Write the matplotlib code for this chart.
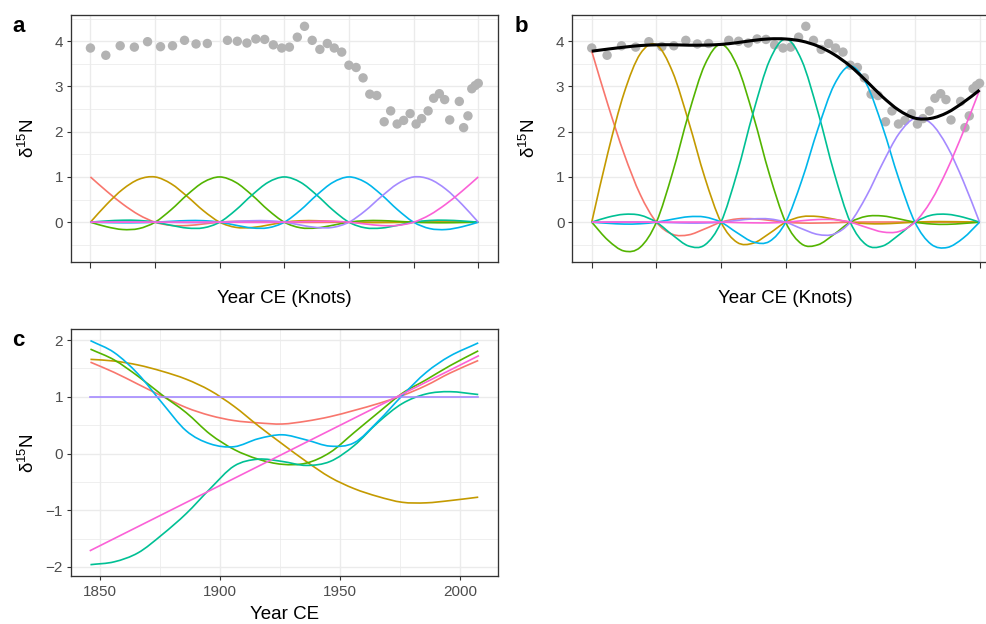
import numpy as np
import matplotlib
matplotlib.use("Agg")
import matplotlib.pyplot as plt
from matplotlib.path import Path
from matplotlib.patches import PathPatch
from matplotlib.ticker import MultipleLocator

plt.rcParams['font.family'] = ['Liberation Sans', 'DejaVu Sans']
plt.rcParams['mathtext.fontset'] = 'custom'
plt.rcParams['mathtext.rm'] = 'Liberation Sans'

# d15N record
years = [1846.1, 1852.5, 1858.5, 1864.4, 1869.9, 1875.3, 1880.3, 1885.3, 1890.1, 1894.8,
         1903.2, 1907.3, 1911.3, 1915.0, 1918.7, 1922.3, 1925.8, 1929.0, 1932.3, 1935.3,
         1938.5, 1941.7, 1944.8, 1947.7, 1950.8, 1953.8, 1956.8, 1959.7, 1962.5, 1965.4,
         1968.5, 1971.2, 1973.9, 1976.6, 1979.3, 1981.8, 1984.1, 1986.8, 1989.1, 1991.5,
         1993.7, 1995.8, 1999.8, 2001.6, 2003.4, 2005.0, 2006.4, 2007.7]
d15n = [3.85, 3.69, 3.90, 3.87, 3.99, 3.88, 3.90, 4.02, 3.94, 3.95,
        4.02, 4.00, 3.96, 4.05, 4.04, 3.92, 3.85, 3.87, 4.09, 4.33,
        4.02, 3.82, 3.95, 3.85, 3.76, 3.47, 3.42, 3.19, 2.83, 2.80,
        2.22, 2.46, 2.17, 2.25, 2.40, 2.17, 2.29, 2.46, 2.74, 2.84,
        2.71, 2.26, 2.67, 2.09, 2.35, 2.95, 3.02, 3.07]

knots = [1846.1, 1873.0, 1899.9, 1926.9, 1953.8, 1980.8, 2007.7]

# cubic regression spline basis, sampled every quarter of a knot interval
cr_red = [1.000, 0.687, 0.400, 0.162, 0.000, -0.071, -0.074, -0.039, 0.000, 0.019, 0.020, 0.011, 0.000,
          -0.005, -0.005, -0.003, 0.000, 0.001, 0.001, 0.001, 0.000, 0.000, 0.000, 0.000, 0.000]
cr_gold = [0.000, 0.392, 0.728, 0.949, 1.000, 0.848, 0.566, 0.251, 0.000, -0.114, -0.118, -0.063, 0.000,
           0.031, 0.032, 0.017, 0.000, -0.008, -0.009, -0.005, 0.000, 0.003, 0.003, 0.002, 0.000]
cr_green = [0.000, -0.101, -0.162, -0.141, 0.000, 0.278, 0.610, 0.886, 1.000, 0.879, 0.598, 0.268, 0.000,
            -0.123, -0.127, -0.068, 0.000, 0.033, 0.035, 0.019, 0.000, -0.010, -0.012, -0.007, 0.000]
cr_teal = [0.000, 0.027, 0.043, 0.038, 0.000, -0.070, -0.130, -0.124, 0.000, 0.270, 0.601, 0.882, 1.000,
           0.882, 0.601, 0.270, 0.000, -0.124, -0.130, -0.070, 0.000, 0.038, 0.043, 0.027, 0.000]
cr_blue = [0.000, -0.007, -0.012, -0.010, 0.000, 0.019, 0.035, 0.033, 0.000, -0.068, -0.127, -0.123, 0.000,
           0.268, 0.598, 0.879, 1.000, 0.886, 0.610, 0.278, 0.000, -0.141, -0.162, -0.101, 0.000]
cr_purple = [0.000, 0.002, 0.003, 0.003, 0.000, -0.005, -0.009, -0.008, 0.000, 0.017, 0.032, 0.031, 0.000,
             -0.063, -0.118, -0.114, 0.000, 0.251, 0.566, 0.848, 1.000, 0.949, 0.728, 0.392, 0.000]
cr_pink = [0.000, 0.000, 0.000, 0.000, 0.000, 0.001, 0.001, 0.001, 0.000, -0.003, -0.005, -0.005, 0.000,
           0.011, 0.020, 0.019, 0.000, -0.039, -0.074, -0.071, 0.000, 0.162, 0.400, 0.687, 1.000]

# fitted coefficients (one per knot)
coefs = [3.78, 3.92, 3.93, 4.05, 3.45, 2.30, 2.92]

# thin plate basis functions
tp_years = [1846.1, 1856, 1866, 1876, 1886, 1896, 1906, 1916, 1926, 1936,
            1946, 1956, 1966, 1976, 1986, 1996, 2007.7]
tp_red = [1.61, 1.43, 1.22, 1.01, 0.81, 0.67, 0.58, 0.54, 0.52, 0.57,
          0.65, 0.76, 0.88, 1.02, 1.20, 1.42, 1.64]
tp_gold = [1.66, 1.63, 1.56, 1.45, 1.31, 1.11, 0.83, 0.49, 0.17, -0.14,
           -0.42, -0.62, -0.76, -0.86, -0.87, -0.83, -0.77]
tp_green = [1.84, 1.65, 1.36, 1.03, 0.72, 0.34, 0.07, -0.10, -0.19, -0.17,
            0.02, 0.37, 0.72, 1.06, 1.30, 1.55, 1.81]
tp_teal = [-1.96, -1.91, -1.75, -1.43, -1.06, -0.62, -0.22, -0.10, -0.14, -0.21,
           -0.14, 0.14, 0.55, 0.88, 1.05, 1.09, 1.04]
tp_blue = [1.99, 1.78, 1.40, 0.89, 0.40, 0.17, 0.12, 0.26, 0.33, 0.24,
           0.13, 0.19, 0.57, 1.02, 1.43, 1.72, 1.95]
tp_const = [1.0, 1.0]
tp_linear = [-1.71, 1.72]

colours = ['#F8766D', '#C49A00', '#53B400', '#00C094', '#00B6EB', '#A58AFF', '#FB61D7']
cr_basis = np.array([cr_red, cr_gold, cr_green, cr_teal, cr_blue, cr_purple, cr_pink])
cr_x = np.linspace(knots[0], knots[-1], cr_basis.shape[1])

PX = 1 / 987
PY = 1 / 624
GRID = '#EBEBEB'
DARK = '#333333'


def smooth_line(ax, x, y, color, lw=1.2, zorder=3):
    # Catmull-Rom curve through the points, drawn as cubic Bezier segments
    p = np.column_stack([np.asarray(x, float), np.asarray(y, float)])
    ext = np.vstack([2 * p[0] - p[1], p, 2 * p[-1] - p[-2]])
    verts = [p[0]]
    codes = [Path.MOVETO]
    for i in range(len(p) - 1):
        p0, p1, p2, p3 = ext[i], ext[i + 1], ext[i + 2], ext[i + 3]
        verts += [p1 + (p2 - p0) / 6, p2 - (p3 - p1) / 6, p2]
        codes += [Path.CURVE4] * 3
    ax.add_patch(PathPatch(Path(verts, codes), fill=False, edgecolor=color,
                           lw=lw, zorder=zorder, joinstyle='round', capstyle='butt'))


def style(ax):
    for s in ax.spines.values():
        s.set_color(DARK)
        s.set_linewidth(0.95)
    ax.tick_params(which='major', colors=DARK, labelcolor='#4D4D4D', length=3.2,
                   width=0.8, labelsize=11, pad=2.5)
    ax.tick_params(which='minor', length=0)
    ax.grid(which='major', color=GRID, lw=1.0)
    ax.grid(which='minor', color=GRID, lw=0.55)
    ax.set_axisbelow(True)
    ax.set_ylabel(r'δ$\mathregular{^{15}}$N', fontsize=13.5)
    ax.yaxis.set_label_coords(-0.077, 0.5)


def knot_axis(ax):
    ax.set_xlim(1838.0, 2015.8)
    ax.set_ylim(-0.88, 4.58)
    ax.set_xticks(knots)
    ax.set_xticklabels([])
    ax.set_yticks([0, 1, 2, 3, 4])
    ax.yaxis.set_minor_locator(MultipleLocator(0.5))
    ax.grid(which='minor', axis='x', visible=False)
    ax.tick_params(axis='x', length=4)
    ax.set_xlabel('Year CE (Knots)', fontsize=13.5)
    ax.xaxis.set_label_coords(0.5, -0.112)


fig = plt.figure(figsize=(9.87, 6.24), dpi=100)
w = 426.7 * PX
h = 247 * PY
ax_a = fig.add_axes([71 * PX, 1 - 262 * PY, w, h])
ax_b = fig.add_axes([572.3 * PX, 1 - 262 * PY, w, h])
ax_c = fig.add_axes([71 * PX, 1 - 576 * PY, w, 246.7 * PY])

# a: data and the unscaled basis
style(ax_a)
knot_axis(ax_a)
ax_a.scatter(years, d15n, s=46, color='#B3B3B3', edgecolors='none', zorder=2)
for row, c in zip(cr_basis, colours):
    smooth_line(ax_a, cr_x, row, c)

# b: basis scaled by the coefficients and their sum
style(ax_b)
knot_axis(ax_b)
ax_b.scatter(years, d15n, s=46, color='#B3B3B3', edgecolors='none', zorder=2)
scaled = cr_basis * np.array(coefs)[:, None]
for row, c in zip(scaled, colours):
    smooth_line(ax_b, cr_x, row, c)
smooth_line(ax_b, cr_x, scaled.sum(axis=0), 'black', lw=2.2, zorder=4)

# c: thin plate basis
style(ax_c)
ax_c.set_xlim(1838.0, 2015.8)
ax_c.set_ylim(-2.16, 2.19)
ax_c.set_xticks([1850, 1900, 1950, 2000])
ax_c.xaxis.set_minor_locator(MultipleLocator(25))
ax_c.set_yticks([-2, -1, 0, 1, 2])
ax_c.yaxis.set_minor_locator(MultipleLocator(0.5))
ax_c.tick_params(axis='x', pad=3)
for vals, c in zip([tp_red, tp_gold, tp_green, tp_teal, tp_blue], colours[:5]):
    smooth_line(ax_c, tp_years, vals, c)
ax_c.plot([tp_years[0], tp_years[-1]], tp_const, color=colours[5], lw=1.2, zorder=3)
ax_c.plot([tp_years[0], tp_years[-1]], tp_linear, color=colours[6], lw=1.2, zorder=3)
ax_c.set_xlabel('Year CE', fontsize=13.5)
ax_c.xaxis.set_label_coords(0.5, -0.12)

for lab, x, y in [('a', 18.8, 32.5), ('b', 521.5, 32.5), ('c', 18.8, 345.5)]:
    fig.text(x * PX, 1 - y * PY, lab, fontsize=16, fontweight='bold',
             ha='center', va='baseline')

fig.savefig('out.png', dpi=100, facecolor='white')
